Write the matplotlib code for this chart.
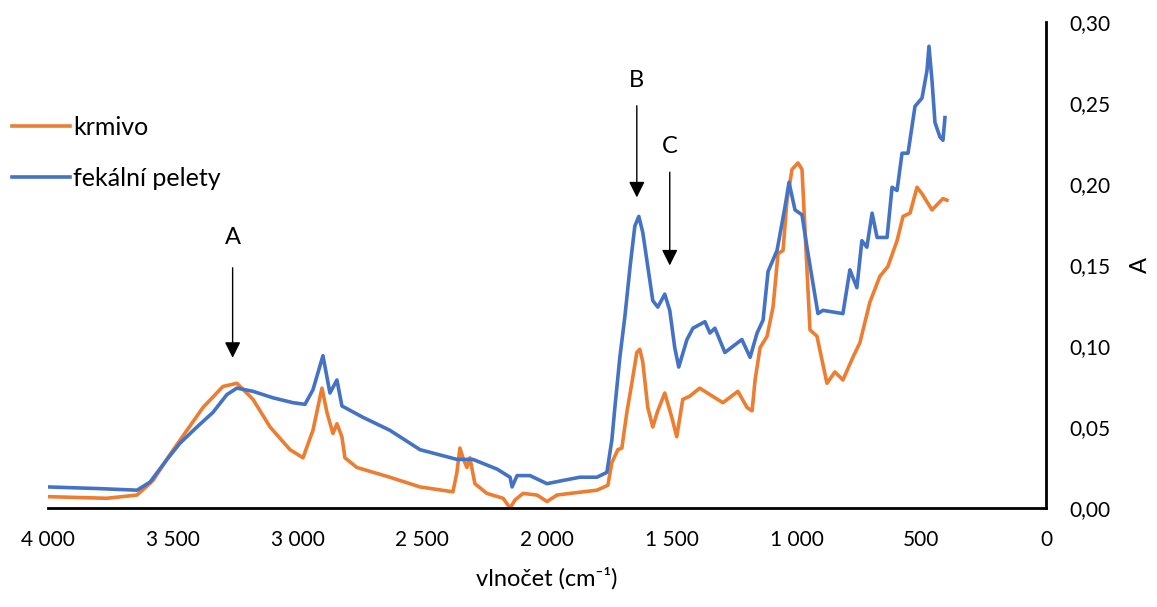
import matplotlib.pyplot as plt
from matplotlib.ticker import FuncFormatter

plt.rcParams['font.family'] = ['Lato', 'DejaVu Sans']

# krmivo (orange)
krmivo_x = [4000, 3764, 3643, 3579, 3511, 3443, 3379, 3299, 3243, 3178, 3110, 3030,
            2978, 2938, 2902, 2882, 2858, 2842, 2822, 2810, 2762, 2630, 2509, 2377,
            2361, 2349, 2337, 2321, 2309, 2289, 2241, 2176, 2148, 2128, 2096, 2040,
            2000, 1960, 1908, 1800, 1756, 1740, 1716, 1700, 1680, 1660, 1640, 1628,
            1616, 1596, 1576, 1556, 1528, 1500, 1480, 1456, 1428, 1388, 1347, 1295,
            1235, 1198, 1178, 1166, 1146, 1118, 1094, 1074, 1054, 1038, 1018, 994,
            978, 966, 946, 918, 878, 846, 814, 774, 746, 706, 666, 634, 597, 573,
            545, 517, 497, 457, 413, 397]
krmivo_y = [0.007, 0.006, 0.008, 0.017, 0.033, 0.048, 0.062, 0.075, 0.077, 0.067, 0.050, 0.036,
            0.031, 0.048, 0.074, 0.059, 0.046, 0.052, 0.044, 0.031, 0.025, 0.019, 0.013, 0.010,
            0.022, 0.037, 0.031, 0.025, 0.031, 0.015, 0.009, 0.006, 0.000, 0.005, 0.009, 0.008,
            0.004, 0.008, 0.009, 0.011, 0.014, 0.028, 0.036, 0.037, 0.059, 0.077, 0.096, 0.098,
            0.090, 0.062, 0.050, 0.060, 0.071, 0.056, 0.044, 0.067, 0.069, 0.074, 0.070, 0.065,
            0.072, 0.062, 0.060, 0.079, 0.099, 0.106, 0.124, 0.157, 0.159, 0.190, 0.209, 0.213,
            0.209, 0.172, 0.110, 0.106, 0.077, 0.084, 0.079, 0.093, 0.102, 0.127, 0.143, 0.149, 0.165, 0.180,
            0.182, 0.198, 0.194, 0.184, 0.191, 0.190]

# fekální pelety (blue)
pelety_x = [4000, 3800, 3643, 3591, 3523, 3471, 3403, 3339, 3283, 3243, 3178, 3098,
            3018, 2970, 2938, 2898, 2870, 2842, 2822, 2738, 2630, 2509, 2361, 2297,
            2200, 2148, 2140, 2120, 2068, 2000, 1936, 1868, 1800, 1760, 1740, 1728,
            1708, 1688, 1667, 1648, 1632, 1616, 1596, 1576, 1556, 1528, 1508, 1488,
            1472, 1439, 1415, 1367, 1347, 1327, 1287, 1219, 1186, 1158, 1134, 1114,
            1078, 1046, 1030, 1006, 978, 958, 914, 894, 814, 786, 758, 738, 718, 697,
            677, 637, 617, 597, 577, 553, 525, 497, 477, 469, 457, 445, 425, 413, 405]
pelety_y = [0.013, 0.012, 0.011, 0.016, 0.030, 0.040, 0.050, 0.059, 0.070, 0.074, 0.072, 0.068,
            0.065, 0.064, 0.073, 0.094, 0.071, 0.079, 0.063, 0.056, 0.048, 0.036, 0.030, 0.030,
            0.024, 0.019, 0.013, 0.020, 0.020, 0.015, 0.017, 0.019, 0.019, 0.022, 0.042, 0.062,
            0.093, 0.118, 0.149, 0.174, 0.180, 0.170, 0.149, 0.128, 0.124, 0.132, 0.122, 0.099,
            0.087, 0.104, 0.111, 0.115, 0.108, 0.111, 0.096, 0.104, 0.093, 0.108, 0.116, 0.146,
            0.159, 0.186, 0.201, 0.184, 0.181, 0.161, 0.120, 0.122, 0.120, 0.147, 0.136, 0.165, 0.161, 0.182,
            0.167, 0.167, 0.198, 0.196, 0.219, 0.219, 0.248, 0.253, 0.270, 0.285, 0.264, 0.238, 0.229, 0.227, 0.241]

# arrows: label, x, tail y, tip y, label y
arrows = [("A", 3260, 0.150, 0.091, 0.167),
          ("B", 1640, 0.250, 0.190, 0.264),
          ("C", 1508, 0.209, 0.148, 0.223)]

fig = plt.figure(figsize=(11.57, 6.07), dpi=100)
ax = fig.add_axes([48/1157, 99/607, 998/1157, 486/607])

ax.plot(krmivo_x, krmivo_y, color='#ED7D31', lw=2.6, label='krmivo')
ax.plot(pelety_x, pelety_y, color='#4472C4', lw=2.6, label='fekální pelety')

for name, x, y0, y1, ly in arrows:
    ax.annotate('', xy=(x, y1), xytext=(x, y0),
                arrowprops=dict(arrowstyle='-|>', color='black', lw=1, mutation_scale=24))
    ax.text(x, ly, name, ha='center', va='center', fontsize=17)

ax.set_xlim(4000, 0)
ax.set_ylim(0, 0.30)
ax.set_xticks(range(4000, -1, -500))
ax.set_yticks([0, 0.05, 0.10, 0.15, 0.20, 0.25, 0.30])
ax.xaxis.set_major_formatter(FuncFormatter(lambda v, p: f"{int(v):,}".replace(",", " ")))
ax.yaxis.set_major_formatter(FuncFormatter(lambda v, p: f"{v:.2f}".replace(".", ",")))

ax.yaxis.tick_right()
ax.yaxis.set_label_position('right')
ax.tick_params(axis='both', length=0, labelsize=15, colors='#000000')
ax.tick_params(axis='y', pad=17)
ax.tick_params(axis='x', pad=16)

for s in ['top', 'left']:
    ax.spines[s].set_visible(False)
for s in ['bottom', 'right']:
    ax.spines[s].set_linewidth(2)

ax.set_xlabel('vlnočet (cm⁻¹)', fontsize=17, labelpad=12)
ax.set_ylabel('A', fontsize=17, labelpad=14)

fig.legend(loc='upper left', bbox_to_anchor=(12/1157, 1 - 116/607), frameon=False,
           fontsize=18, handlelength=2.3, labelspacing=1.1, handletextpad=0.15,
           borderpad=0, borderaxespad=0)

fig.savefig('out.png', dpi=100)
